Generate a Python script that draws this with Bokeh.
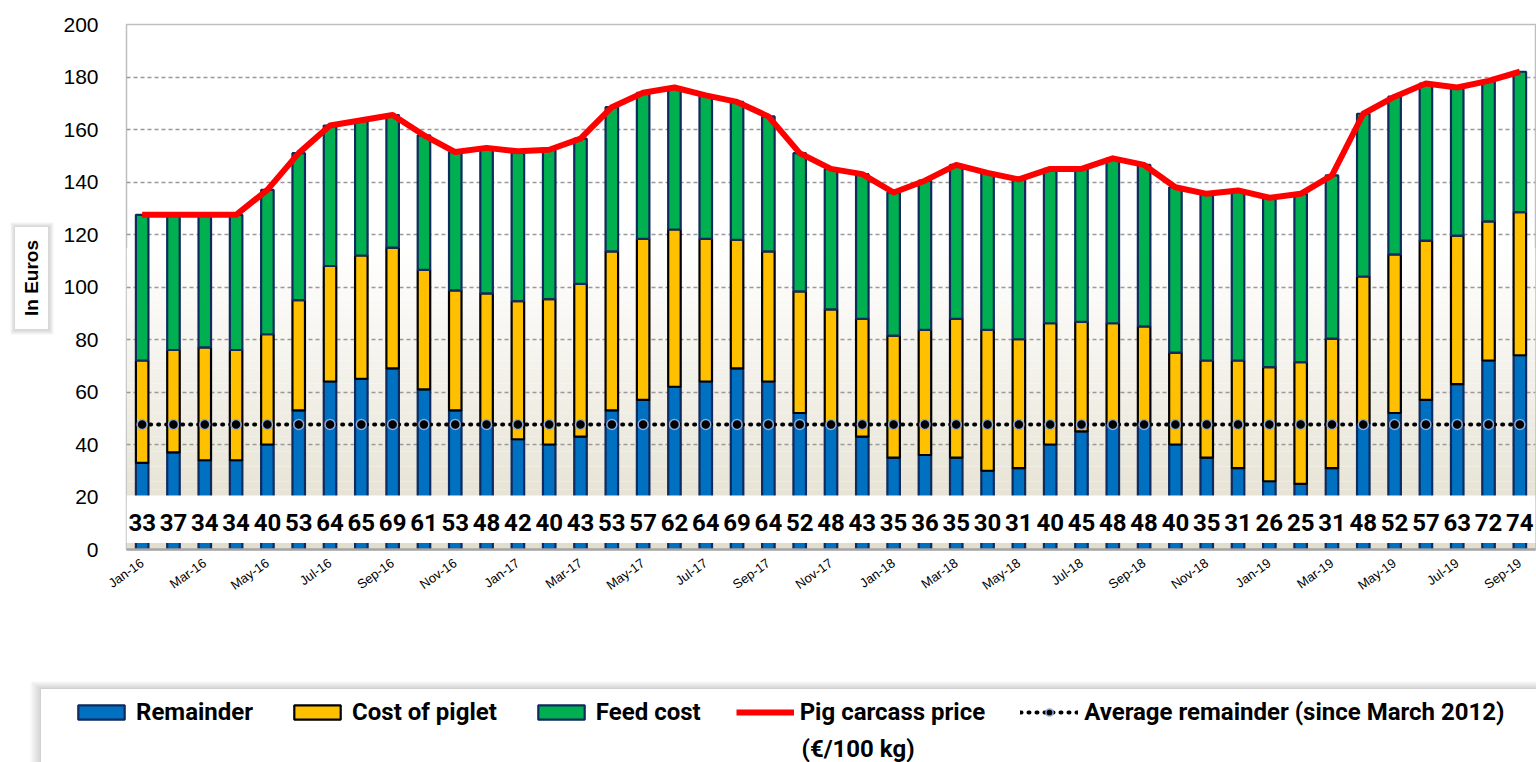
import numpy as np
from bokeh.plotting import figure
from bokeh.layouts import column, row
from bokeh.models import (FixedTicker, Legend, LegendItem, BoxAnnotation, Range1d)
from bokeh.core.properties import value
from bokeh.embed import file_html
from bokeh.resources import INLINE

months = ["Jan-16", "Feb-16", "Mar-16", "Apr-16", "May-16", "Jun-16", "Jul-16", "Aug-16", "Sep-16", "Oct-16", "Nov-16", "Dec-16",
          "Jan-17", "Feb-17", "Mar-17", "Apr-17", "May-17", "Jun-17", "Jul-17", "Aug-17", "Sep-17", "Oct-17", "Nov-17", "Dec-17",
          "Jan-18", "Feb-18", "Mar-18", "Apr-18", "May-18", "Jun-18", "Jul-18", "Aug-18", "Sep-18", "Oct-18", "Nov-18", "Dec-18",
          "Jan-19", "Feb-19", "Mar-19", "Apr-19", "May-19", "Jun-19", "Jul-19", "Aug-19", "Sep-19"]

remainder = [33, 37, 34, 34, 40, 53, 64, 65, 69, 61, 53, 48, 42, 40, 43, 53, 57, 62, 64, 69, 64, 52, 48,
             43, 35, 36, 35, 30, 31, 40, 45, 48, 48, 40, 35, 31, 26, 25, 31, 48, 52, 57, 63, 72, 74]
piglet_cost = [39, 39, 43, 42, 42, 42, 44, 47, 46, 45.5, 45.7, 49.6, 52.6, 55.4, 58.2, 60.6, 61.3, 59.9, 54.3,
               49, 49.6, 46.3, 43.5, 44.9, 46.5, 47.7, 52.9, 53.7, 49.1, 46.2, 41.7, 38.2, 37, 35, 37, 41,
               43.5, 46.4, 49.3, 56, 60.4, 60.7, 56.6, 53, 54.5]
feed_cost = [55.5, 51.5, 50.5, 51.5, 55, 56, 53.5, 51.5, 50.5, 51.3, 52.7, 55.4, 57.1, 56.9, 55.3, 54.9, 55.7,
             54.1, 54.7, 52.5, 51.4, 52.7, 53.5, 55.1, 54.5, 56.8, 58.6, 59.8, 60.9, 58.8, 58.3, 62.8, 61.5,
             63, 63.5, 64.8, 64.5, 64.1, 62.2, 62, 60.1, 59.8, 56.4, 53.5, 53.5]
pig_price = [127.5, 127.5, 127.5, 127.5, 137, 151, 161.5, 163.5, 165.5, 157.8, 151.4, 153, 151.7, 152.3, 156.5,
             168.5, 174, 176, 173, 170.5, 165, 151, 145, 143, 136, 140.5, 146.5, 143.5, 141, 145, 145, 149,
             146.5, 138, 135.5, 136.8, 134, 135.5, 142.5, 166, 172.5, 177.5, 176, 178.5, 182]
avg_remainder = 47.6
y_ticks = [0, 20, 40, 60, 80, 100, 120, 140, 160, 180, 200]
legend_labels = ["Remainder", "Cost of piglet", "Feed cost", "Pig carcass price", "Average remainder (since March 2012)"]
price_unit = "(€/100 kg)"
y_title = "In Euros"

BLUE, ORANGE, GREEN, NAVY = "#0070C0", "#FFC000", "#00B050", "#0F2A5E"
BOLDFONT = "Roboto"

n = len(months)
x = np.arange(n)
data = dict(x=x, remainder=remainder, piglet=piglet_cost, feed=feed_cost)

MAIN_H = 640
LEG_H = 762 - MAIN_H
LEFT_W = 60
FRAME_TOP, FRAME_BOTTOM = 24, 549

# ---------------- main chart ----------------
p = figure(width=1536 - LEFT_W, height=MAIN_H, output_backend="svg", toolbar_location=None,
           x_range=Range1d(-0.5, n - 0.5), y_range=Range1d(0, 200),
           min_border_left=124 - LEFT_W, min_border_right=1, min_border_top=FRAME_TOP,
           min_border_bottom=MAIN_H - FRAME_BOTTOM)
p.background_fill_color = "white"
p.border_fill_color = "white"
p.outline_line_color = "#bfbfbf"
p.outline_line_width = 1.5

top_c = np.array([255, 255, 255])
bot_c = np.array([226, 222, 205])
steps = 40
for i in range(steps):
    b = 115 * i / steps
    t = 115 * (i + 1) / steps
    f = 1 - (i + 0.5) / steps
    c = top_c + (bot_c - top_c) * f
    col = "#%02x%02x%02x" % tuple(int(round(v)) for v in c)
    p.add_layout(BoxAnnotation(bottom=b, top=t, fill_color=col, fill_alpha=1, line_color=None, level="image"))

p.ygrid.ticker = FixedTicker(ticks=y_ticks)
p.ygrid.grid_line_color = "#999999"
p.ygrid.grid_line_dash = "4 3"
p.ygrid.grid_line_width = 1.3
p.xgrid.grid_line_color = None

bar_style = dict(fill_color=[BLUE, ORANGE, GREEN], line_color=[NAVY, "#000000", NAVY], line_width=2.2)
stack = p.vbar_stack(["remainder", "piglet", "feed"], x="x", width=0.40, source=data, **bar_style)

line_style = dict(line_color="#FF0000", line_width=6, line_join="round")
p.line(x, pig_price, **line_style)

avg_style = dict(line_color="black", line_width=4, line_dash="1 7", line_cap="round")
pt_style = dict(size=10, fill_color="black", line_color="#8FAADC", line_width=1.5)
p.line(x, [avg_remainder] * n, **avg_style)
p.scatter(x, [avg_remainder] * n, **pt_style)

p.add_layout(BoxAnnotation(bottom=2.5, top=20.6, fill_color="white", fill_alpha=1, line_color=None, level="annotation"))
lab = p.text(x, np.full(n, 10.3), text=[str(v) for v in remainder], text_align="center", text_baseline="middle",
             text_font=value(BOLDFONT), text_font_style="bold", text_font_size="24px", text_color="black")
lab.level = "overlay"

p.yaxis.ticker = FixedTicker(ticks=y_ticks)
p.yaxis.axis_line_color = None
p.yaxis.major_tick_line_color = None
p.yaxis.minor_tick_line_color = None
p.yaxis.major_label_text_font = "Liberation Sans"
p.yaxis.major_label_text_font_size = "21px"
p.yaxis.major_label_text_color = "black"
p.yaxis.major_label_standoff = 22

p.xaxis.ticker = FixedTicker(ticks=list(range(0, n, 2)))
p.xaxis.major_label_overrides = {i: months[i] for i in range(0, n, 2)}
p.xaxis.major_label_orientation = 0.62
p.xaxis.major_label_text_font = "Liberation Sans"
p.xaxis.major_label_text_font_size = "13px"
p.xaxis.major_label_text_color = "black"
p.xaxis.major_tick_line_color = None
p.xaxis.minor_tick_line_color = None
p.xaxis.axis_line_color = "#a6a6a6"
p.xaxis.axis_line_width = 2.5
p.xaxis.major_label_standoff = 6


def deco_fig(w, h, y_top, y_bottom):
    f = figure(width=w, height=h, output_backend="svg", toolbar_location=None,
               x_range=Range1d(0, w), y_range=Range1d(y_bottom, y_top), x_axis_type=None, y_axis_type=None,
               min_border=0, outline_line_color=None)
    f.grid.visible = False
    f.background_fill_color = "white"
    f.border_fill_color = "white"
    return f


# ---------------- y title panel (frame aligned with main frame) ----------------
lf = deco_fig(LEFT_W, MAIN_H, FRAME_TOP, FRAME_BOTTOM)
for k in range(5):
    lf.quad(left=[14 - k], right=[49 + k], top=[226 - k], bottom=[330 + k],
            fill_color="#808080", fill_alpha=0.07, line_color=None)
lf.quad(left=[14], right=[48], top=[226], bottom=[329], fill_color="white", line_color="#d9d9d9", line_width=1)
lf.text([31], [277.5], text=[y_title], angle=np.pi / 2, text_align="center", text_baseline="middle",
        text_font=value("Liberation Sans"), text_font_style="bold", text_font_size="19px", text_color="black")

# ---------------- legend panel ----------------
gf = deco_fig(1536, LEG_H, 0, LEG_H)
box_top = 688 - MAIN_H

# legend proxies: drawn first, then hidden under the white legend box
hx, hy = [700], [100]
r1 = gf.vbar(x=hx, top=hy, bottom=hy, width=1, fill_color=BLUE, line_color=NAVY, line_width=2.2)
r2 = gf.vbar(x=hx, top=hy, bottom=hy, width=1, fill_color=ORANGE, line_color="#000000", line_width=2.2)
r3 = gf.vbar(x=hx, top=hy, bottom=hy, width=1, fill_color=GREEN, line_color=NAVY, line_width=2.2)
r4 = gf.line([700, 701], [100, 100], **line_style)
r5 = gf.line([700, 701], [100, 100], **avg_style)
r6 = gf.scatter(hx, hy, **pt_style)

for k in range(7):
    gf.quad(left=[40 - 1.7 * k], right=[1600], top=[box_top - 1.2 * k], bottom=[300],
            fill_color="#808080", fill_alpha=0.06, line_color=None)
gf.quad(left=[40], right=[1600], top=[box_top], bottom=[300], fill_color="white", line_color="#d0d0d0", line_width=1)

legend = Legend(items=[
    LegendItem(label=legend_labels[0], renderers=[r1]),
    LegendItem(label=legend_labels[1], renderers=[r2]),
    LegendItem(label=legend_labels[2], renderers=[r3]),
    LegendItem(label=legend_labels[3], renderers=[r4]),
    LegendItem(label=legend_labels[4], renderers=[r5, r6]),
], orientation="horizontal", location=(72, 36))
legend.label_text_font = BOLDFONT
legend.label_text_font_style = "bold"
legend.label_text_font_size = "24px"
legend.label_text_color = "black"
legend.glyph_width = 58
legend.glyph_height = 18
legend.label_standoff = 6
legend.spacing = 35
legend.padding = 11
legend.margin = 0
legend.border_line_color = None
legend.background_fill_alpha = 0
gf.add_layout(legend)

gf.text([801], [748 - MAIN_H], text=[price_unit], text_align="left", text_baseline="middle",
        text_font=value(BOLDFONT), text_font_style="bold", text_font_size="24px", text_color="black")

layout = column(row(lf, p, spacing=0), gf, spacing=0)
open("out.html", "w").write(file_html(layout, INLINE))
